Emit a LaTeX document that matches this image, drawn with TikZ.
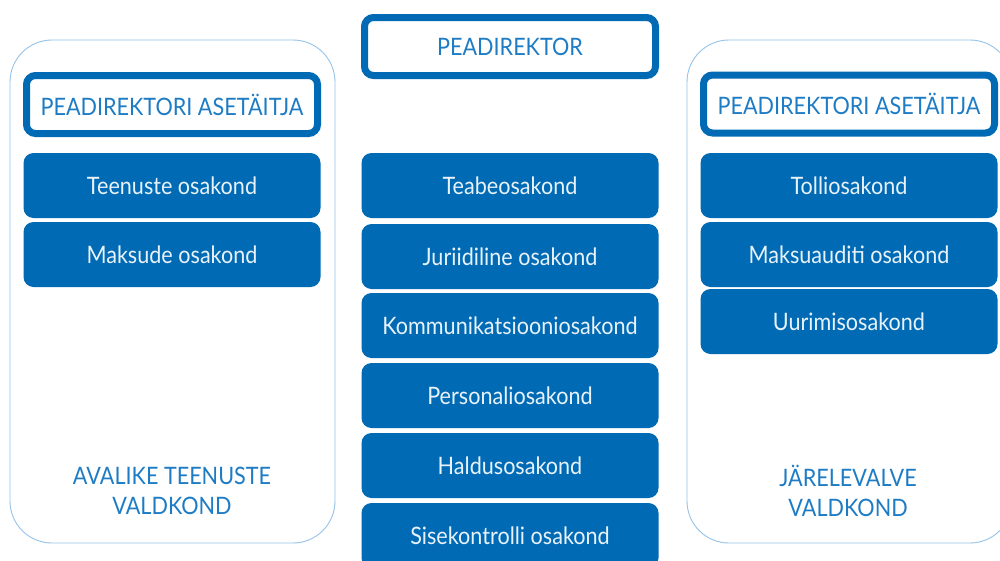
\documentclass[tikz,border=0pt]{standalone}
\usepackage{fontspec}
\setmainfont{Lato}[FakeStretch=0.9]
\definecolor{dblue}{RGB}{0,106,180}
\definecolor{tblue}{RGB}{30,124,196}
\definecolor{lblue}{RGB}{150,195,232}
\definecolor{wtext}{RGB}{232,242,250}
\tikzset{
  frame/.style={draw=lblue, line width=0.9pt, rounded corners=42pt},
  head/.style={draw=dblue, line width=7pt, fill=white, rounded corners=9pt, minimum width=291pt, minimum height=58pt, inner sep=0pt, text=tblue, font=\fontsize{24}{26}\selectfont},
  dept/.style={fill=dblue, rounded corners=10pt, minimum width=297pt, minimum height=65pt, inner sep=0pt, text=wtext, font=\fontsize{24}{26}\selectfont},
  area/.style={text=tblue, align=center, font=\fontsize{24}{30}\selectfont},
}
\begin{document}
\begin{tikzpicture}[x=1pt,y=-1pt]
\useasboundingbox (0,0) rectangle (1000,560);
\clip (0,0) rectangle (1000,560);
\fill[white] (0,0) rectangle (1000,560);
% containers
\draw[frame] (10,40) rectangle (335,543);
\draw[frame] (687,40) rectangle (1012,543);
% center column
\node[head] (pd) at (510,46.5) {PEADIREKTOR};
\node[dept] (c1) at (510,185.5) {Teabeosakond};
\node[dept] (c2) at (510,256.5) {Juriidiline osakond};
\node[dept] (c3) at (510,325.5) {Kommunikatsiooniosakond};
\node[dept] (c4) at (510,395.5) {Personaliosakond};
\node[dept] (c5) at (510,465.5) {Haldusosakond};
\node[dept] (c6) at (510,535.5) {Sisekontrolli osakond};
% left column
\node[head] (la) at (172,104.5) {PEADIREKTORI ASETÄITJA};
\node[dept] (l1) at (172,185.5) {Teenuste osakond};
\node[dept] (l2) at (172,254.5) {Maksude osakond};
\node[area] (lt) at (172,491) {AVALIKE TEENUSTE\\VALDKOND};
% right column
\node[head] (ra) at (849,104) {PEADIREKTORI ASETÄITJA};
\node[dept] (r1) at (849,185.5) {Tolliosakond};
\node[dept] (r2) at (849,254.5) {Maksuauditi osakond};
\node[dept] (r3) at (849,321.5) {Uurimisosakond};
\node[area] (rt) at (848,491) {JÄRELEVALVE\\VALDKOND};
\end{tikzpicture}
\end{document}
